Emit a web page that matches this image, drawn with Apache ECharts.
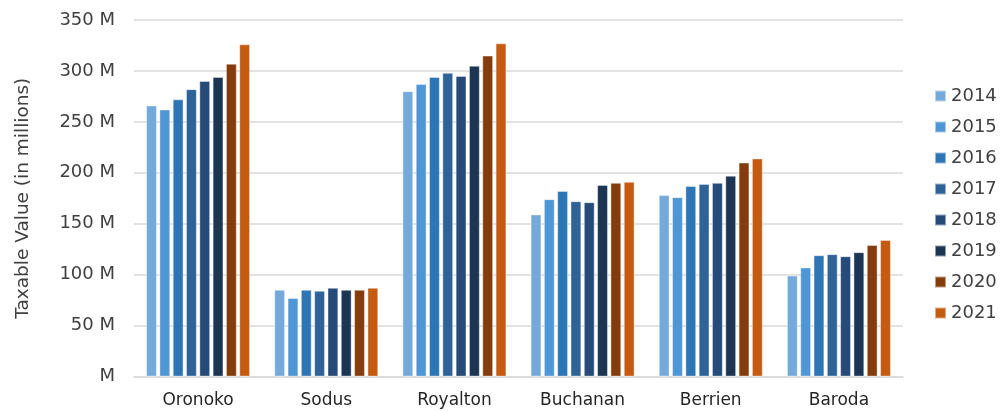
<!DOCTYPE html>
<html>
<head>
<meta charset="utf-8">
<script src="https://cdn.jsdelivr.net/npm/echarts@6/dist/echarts.min.js"></script>
<style>
html,body{margin:0;padding:0;background:#fff;}
#c{width:1000px;height:412px;}
</style>
</head>
<body>
<div id="c"></div>
<script>
const categories = ['Oronoko', 'Sodus', 'Royalton', 'Buchanan', 'Berrien', 'Baroda'];
const years = ['2014', '2015', '2016', '2017', '2018', '2019', '2020', '2021'];
const v2014 = [266, 85, 280, 159, 178, 99];
const v2015 = [262, 77, 287, 174, 176, 107];
const v2016 = [272, 85, 294, 182, 187, 119];
const v2017 = [282, 84, 298, 172, 189, 120];
const v2018 = [290, 87, 295, 171, 190, 118];
const v2019 = [294, 85, 305, 188, 197, 122];
const v2020 = [307, 85, 315, 190, 210, 129];
const v2021 = [326, 87, 327, 191, 214, 134];
const yTicks = [0, 50, 100, 150, 200, 250, 300, 350];
const colors = ['#74A9DB', '#4F96D6', '#2E75B6', '#2F6398', '#264B78', '#1C3553', '#843C0C', '#C55A11'];

const seriesValues = [v2014, v2015, v2016, v2017, v2018, v2019, v2020, v2021];
const font = '"DejaVu Sans", Verdana, sans-serif';

const chart = echarts.init(document.getElementById('c'));
chart.setOption({
  animation: false,
  color: colors,
  grid: { left: 134, right: 97, top: 20, bottom: 35.5 },
  legend: {
    orient: 'vertical',
    left: 929,
    top: 82,
    itemWidth: 11,
    itemHeight: 11,
    itemGap: 13,
    icon: 'rect',
    textStyle: { color: '#404040', fontSize: 18, fontFamily: font },
    data: years
  },
  xAxis: {
    type: 'category',
    data: categories,
    axisLine: { show: true, lineStyle: { color: '#d9d9d9', width: 1.5 } },
    axisTick: { show: false },
    axisLabel: { color: '#262626', fontSize: 17, fontFamily: font, margin: 16 }
  },
  yAxis: {
    type: 'value',
    min: yTicks[0],
    max: yTicks[yTicks.length - 1],
    interval: 50,
    name: 'Taxable Value (in millions)',
    nameLocation: 'middle',
    nameGap: 101,
    nameRotate: 90,
    nameTextStyle: { color: '#404040', fontSize: 18.5, fontFamily: font },
    axisLine: { show: false },
    axisTick: { show: false },
    splitLine: { lineStyle: { color: '#d9d9d9', width: 1.5 } },
    axisLabel: {
      color: '#404040', fontSize: 18, fontFamily: font, margin: 19,
      formatter: v => (v === 0 ? 'M' : v + ' M')
    }
  },
  series: years.map((y, i) => ({
    name: y,
    type: 'bar',
    data: seriesValues[i],
    barGap: '25%',
    barCategoryGap: '19%',
    itemStyle: { borderColor: 'rgba(255,255,255,0.5)', borderWidth: 0.8 }
  }))
});
</script>
</body>
</html>
